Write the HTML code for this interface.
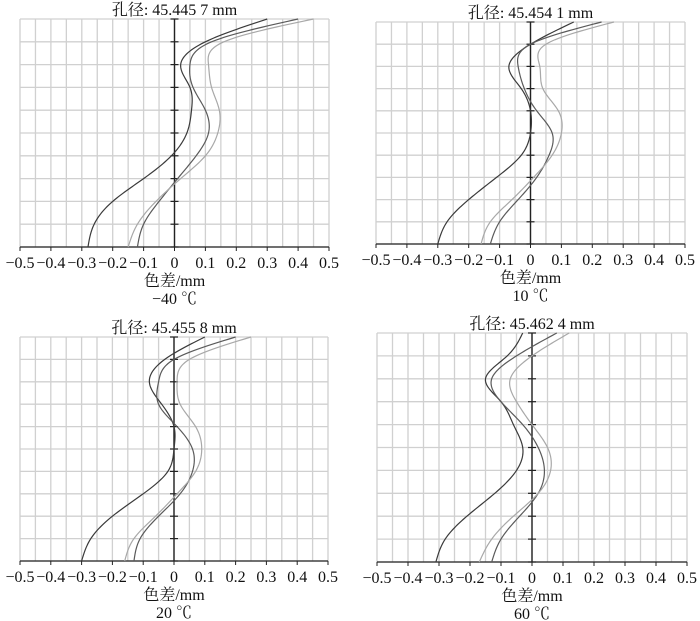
<!DOCTYPE html>
<html><head><meta charset="utf-8">
<style>
html,body{margin:0;padding:0;background:#fff;}
svg{display:block;font-family:"Liberation Serif","Noto Serif CJK SC",serif;}
</style></head>
<body>
<svg id="chart" width="700" height="621" viewBox="0 0 700 621" xmlns="http://www.w3.org/2000/svg"></svg>
<script>
const xTicks = [-0.5,-0.4,-0.3,-0.2,-0.1,0,0.1,0.2,0.3,0.4,0.5];
const xTickLabels = ["\u22120.5","\u22120.4","\u22120.3","\u22120.2","\u22120.1","0","0.1","0.2","0.3","0.4","0.5"];
const pupilLevels = [0,0.1,0.2,0.3,0.4,0.5,0.6,0.7,0.8,0.9,1.0];
const panelTitles = ["孔径: 45.445 7 mm","孔径: 45.454 1 mm","孔径: 45.455 8 mm","孔径: 45.462 4 mm"];
const panelTemps = ["\u221240 \u2103","10 \u2103","20 \u2103","60 \u2103"];
const seriesColors = ["#3a3a3a","#5a5a5a","#a8a8a8"];
const p1Dark = [-0.28,-0.26,-0.2,-0.1,-0.01,0.04,0.055,0.05,0.02,0.1,0.3];
const p1Mid = [-0.12,-0.1,-0.05,0.01,0.07,0.11,0.1,0.06,0.05,0.12,0.4];
const p1Light = [-0.15,-0.12,-0.06,0.02,0.1,0.14,0.145,0.12,0.11,0.16,0.45];
const p2Dark = [-0.3,-0.27,-0.2,-0.11,-0.03,0.0,0.0,-0.03,-0.07,0.0,0.14];
const p2Mid = [-0.13,-0.1,-0.04,0.02,0.06,0.07,0.02,-0.02,-0.04,0.0,0.23];
const p2Light = [-0.16,-0.13,-0.06,0.01,0.07,0.1,0.09,0.04,0.03,0.05,0.27];
const p3Dark = [-0.3,-0.27,-0.2,-0.1,-0.02,0.0,0.0,-0.04,-0.08,-0.03,0.1];
const p3Mid = [-0.13,-0.11,-0.05,0.02,0.06,0.06,0.01,-0.05,-0.05,0.0,0.2];
const p3Light = [-0.16,-0.13,-0.06,0.01,0.07,0.09,0.07,0.02,0.01,0.05,0.25];
const p4Dark = [-0.31,-0.28,-0.21,-0.12,-0.05,-0.03,-0.06,-0.1,-0.15,-0.08,-0.03];
const p4Mid = [-0.13,-0.1,-0.04,0.02,0.04,0.02,-0.03,-0.1,-0.13,-0.05,0.08];
const p4Light = [-0.17,-0.13,-0.06,0.02,0.06,0.05,0.0,-0.05,-0.07,0.0,0.12];

const panels = [
  {l:20,r:329,t:19,b:247,series:[p1Dark,p1Mid,p1Light]},
  {l:376,r:685,t:22,b:244,series:[p2Dark,p2Mid,p2Light]},
  {l:20,r:328,t:337,b:561,series:[p3Dark,p3Mid,p3Light]},
  {l:377,r:687,t:333,b:562,series:[p4Dark,p4Mid,p4Light]}
];
const NS="http://www.w3.org/2000/svg";
const svg=document.getElementById('chart');
function mk(tag,attrs,parent){const e=document.createElementNS(NS,tag);for(const k in attrs)e.setAttribute(k,attrs[k]);(parent||svg).appendChild(e);return e;}

// natural cubic spline of x as function of uniform t
function spline(vals){
  const n=vals.length, h=1;
  const a=new Array(n).fill(0),b=new Array(n).fill(0),c=new Array(n).fill(0),d=new Array(n).fill(0);
  for(let i=1;i<n-1;i++){a[i]=1;b[i]=4;c[i]=1;d[i]=6*(vals[i+1]-2*vals[i]+vals[i-1]);}
  b[0]=1;b[n-1]=1;
  for(let i=1;i<n;i++){const m=a[i]/b[i-1];b[i]-=m*c[i-1];d[i]-=m*d[i-1];}
  const M=new Array(n).fill(0);
  M[n-1]=d[n-1]/b[n-1];
  for(let i=n-2;i>=0;i--)M[i]=(d[i]-c[i]*M[i+1])/b[i];
  return function(t){
    let i=Math.min(n-2,Math.floor(t));const u=t-i;
    return M[i]*(1-u)**3/6+M[i+1]*u**3/6+(vals[i]-M[i]/6)*(1-u)+(vals[i+1]-M[i+1]/6)*u;
  };
}

panels.forEach((p,pi)=>{
  const g=mk('g',{});
  
  
  const xs=v=>p.l+(v+0.5)/1.0*(p.r-p.l);
  const ys=v=>p.b-v*(p.b-p.t);
  for(let i=0;i<=20;i++){
    const v=-0.5+i*0.05;
    const ln=mk('line',{x1:xs(v),x2:xs(v),y1:p.t,y2:p.b,stroke:'#d0d0d0','stroke-width':1.3},g);
    
    
  }
  pupilLevels.forEach(lv=>{
    const ln=mk('line',{x1:p.l,x2:p.r,y1:ys(lv),y2:ys(lv),stroke:'#d0d0d0','stroke-width':1.3},g);
    
    
  });
  const xa=mk('line',{x1:p.l,x2:p.r,y1:p.b,y2:p.b,stroke:'#222','stroke-width':1.2},g);
  
  
  xTicks.forEach((v,i)=>{
    mk('line',{x1:xs(v),x2:xs(v),y1:p.b,y2:p.b+4,stroke:'#222','stroke-width':1},g);
    const t=mk('text',{x:xs(v),y:p.b+21,'text-anchor':'middle','font-size':16,fill:'#111'},g);
    t.textContent=xTickLabels[i];
    
    
  });
  const za=mk('line',{x1:xs(0),x2:xs(0),y1:p.t,y2:p.b,stroke:'#222','stroke-width':1.4},g);
  
  
  pupilLevels.forEach(lv=>{
    mk('line',{x1:xs(0)-4,x2:xs(0)+4,y1:ys(lv),y2:ys(lv),stroke:'#222','stroke-width':1.2},g);
  });
  p.series.forEach((vals,si)=>{
    const f=spline(vals);
    const N=vals.length-1;
    let d='';
    for(let k=0;k<=200;k++){
      const t=k/200*N;
      const yv=pupilLevels[0]+(pupilLevels[N]-pupilLevels[0])*t/N;
      d+=(k?' L':'M')+xs(f(t)).toFixed(2)+','+ys(yv).toFixed(2);
    }
    const path=mk('path',{d:d,fill:'none',stroke:seriesColors[si],'stroke-width':1.2},g);
    
    
  });
  const cx=(p.l+p.r)/2;
  const tt=mk('text',{x:cx,y:p.t-4,'text-anchor':'middle','font-size':16,fill:'#111'},g);
  tt.textContent=panelTitles[pi];
  
  
  const xl=mk('text',{x:cx,y:p.b+39,'text-anchor':'middle','font-size':16,fill:'#111'},g);
  xl.textContent='色差/mm';
  
  
  const tp=mk('text',{x:cx,y:p.b+57,'text-anchor':'middle','font-size':16,fill:'#111'},g);
  tp.textContent=panelTemps[pi];
  
  
});
</script>
</body></html>
